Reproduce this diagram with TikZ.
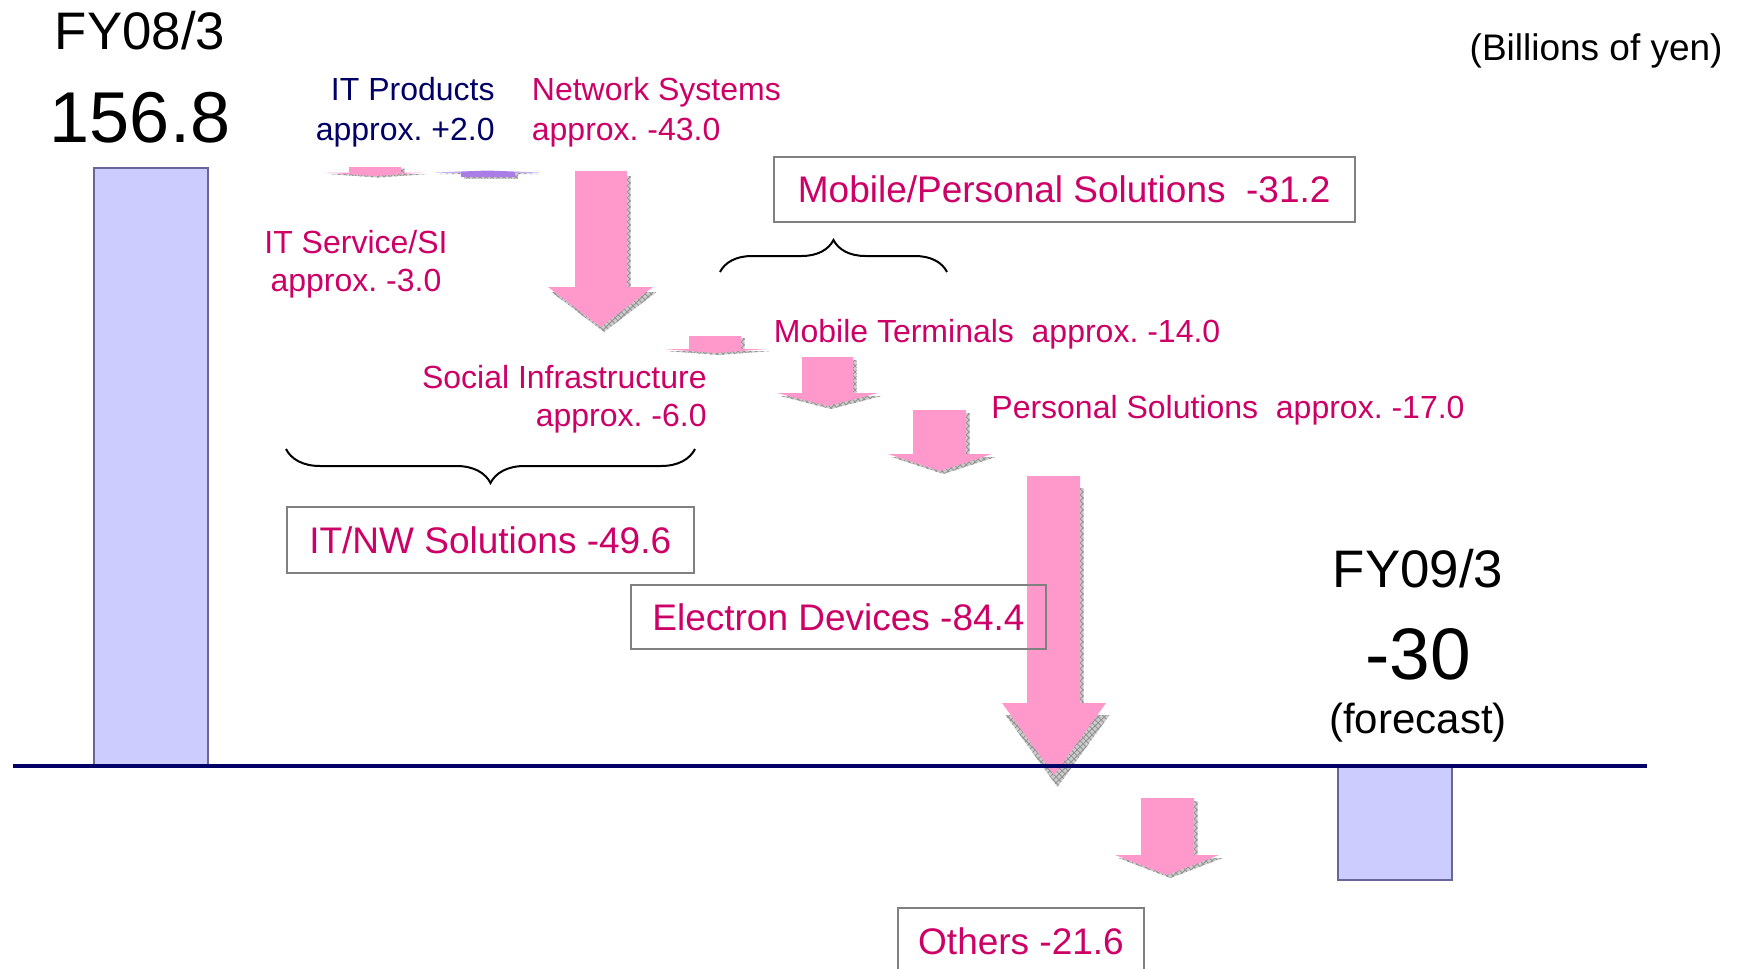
\documentclass[tikz,border=0pt]{standalone}
\usepackage{fontspec}
\setmainfont{Liberation Sans}
\usetikzlibrary{decorations.pathreplacing,patterns}
\definecolor{magtext}{RGB}{204,0,102}
\definecolor{arrowpink}{RGB}{255,153,204}
\definecolor{barfill}{RGB}{204,204,255}
\definecolor{barline}{RGB}{102,102,153}
\definecolor{navy}{RGB}{0,0,102}
\definecolor{boxgray}{RGB}{128,128,128}
\definecolor{itpurple}{RGB}{170,125,230}
\frenchspacing
\newcommand{\fs}[1]{\fontsize{#1}{#1}\selectfont}
\newcommand{\pinkarrow}[8]{%
  \path[shadowfill, shift={(3.5,#8)}] (#2,#5) -- (#3,#5) -- (#3,#6) -- (#4,#6) -- ({(#1+#4)/2},#7) -- (#1,#6) -- (#2,#6) -- cycle;
  \path[fill=arrowpink] (#2,#5) -- (#3,#5) -- (#3,#6) -- (#4,#6) -- ({(#1+#4)/2},#7) -- (#1,#6) -- (#2,#6) -- cycle;
}
\begin{document}
\begin{tikzpicture}[x=0.5pt,y=-0.5pt,
  lbl/.style={inner sep=0pt, font=\fs{16}, text=magtext},
  navylbl/.style={inner sep=0pt, font=\fs{16}, text=navy},
  bigbox/.style={draw=boxgray, line width=1pt, inner sep=0pt, font=\fs{18.5}, text=magtext},
  bar/.style={fill=barfill, draw=barline, line width=1pt},
  shadowfill/.style={fill=gray!40, postaction={pattern=crosshatch, pattern color=gray!85}},
  brc/.style={draw=black, line width=1pt, decorate, decoration={brace, amplitude=16pt}},
]
\useasboundingbox (0,0) rectangle (1740,969);
% bars
\draw[bar] (94,167.5) rectangle (207.5,767);
\draw[bar] (1338,767) rectangle (1451.5,880);
% arrows
\pinkarrow{324}{349}{401}{425}{167}{172.5}{176}{1.5}
\path[shadowfill, shift={(3,1.5)}] (436,172.5) -- (487.5,170.5) -- (539,172.5) -- (515,172.5) -- (515,177) -- (461,177) -- (461,172.5) -- cycle;
\path[fill=itpurple] (436,172.5) -- (487.5,170.5) -- (539,172.5) -- (515,172.5) -- (515,177) -- (461,177) -- (461,172.5) -- cycle;
\pinkarrow{548}{575}{627}{653}{171}{287}{327}{5}
\pinkarrow{663}{689}{741}{767}{336}{349}{353}{2}
\pinkarrow{777}{802}{853}{878}{357}{393}{406}{3}
\pinkarrow{888}{913}{966}{992}{410}{454}{471}{3}
\pinkarrow{1002}{1027}{1080}{1106}{476}{703}{775}{12}
\pinkarrow{1115}{1141}{1194}{1219}{798}{855}{875}{3}
% zero line
\draw[navy, line width=1.75pt] (13,766) -- (1647,766);
% braces
\draw[brc] (720,272) -- (947,272);
\draw[brc, decoration={brace, amplitude=17pt}] (695,449) -- (286,449);
% titles
\node[anchor=base, inner sep=0pt, font=\fs{26.4}] (fy08) at (140,49) {FY08/3};
\node[anchor=base, inner sep=0pt, font=\fs{36}] (v08) at (140,142) {156.8};
\node[anchor=base, inner sep=0pt, font=\fs{26.4}] (fy09) at (1418,587) {FY09/3};
\node[anchor=base, inner sep=0pt, font=\fs{36.5}] (v09) at (1418,679) {-30};
\node[anchor=base, inner sep=0pt, font=\fs{21}] (fc) at (1418,733) {(forecast)};
\node[anchor=base east, inner sep=0pt, font=\fs{18.5}] (unit) at (1723,61) {(Billions of yen)};
% labels
\node[navylbl, anchor=base east] (itp1) at (495,100.7) {IT Products};
\node[navylbl, anchor=base east] (itp2) at (495,140) {approx. +2.0};
\node[lbl, anchor=base west] (ns1) at (531.5,100.7) {Network Systems};
\node[lbl, anchor=base west] (ns2) at (531.5,140) {approx. -43.0};
\node[lbl, anchor=base] (its1) at (356,253) {IT Service/SI};
\node[lbl, anchor=base] (its2) at (356,291) {approx. -3.0};
\node[lbl, anchor=base east] (si1) at (707,388.5) {Social Infrastructure};
\node[lbl, anchor=base east] (si2) at (707,426) {approx. -6.0};
\node[lbl, anchor=base west] (mt) at (773.5,342.7) {Mobile Terminals~~approx. -14.0};
\node[lbl, anchor=base west] (ps) at (991,418) {Personal Solutions~~approx. -17.0};
% boxes
\node[bigbox, minimum width=290.75pt, minimum height=32.75pt] (mps) at (1064.25,189.25) {Mobile/Personal Solutions~~-31.2};
\node[bigbox, minimum width=203.25pt, minimum height=33pt] (itnw) at (490.25,540) {IT/NW Solutions -49.6};
\node[bigbox, minimum width=207.5pt, minimum height=32pt] (ed) at (838.5,617) {Electron Devices -84.4};
\node[bigbox, minimum width=123pt, minimum height=33pt] (oth) at (1021,941) {Others -21.6};
\end{tikzpicture}
\end{document}
